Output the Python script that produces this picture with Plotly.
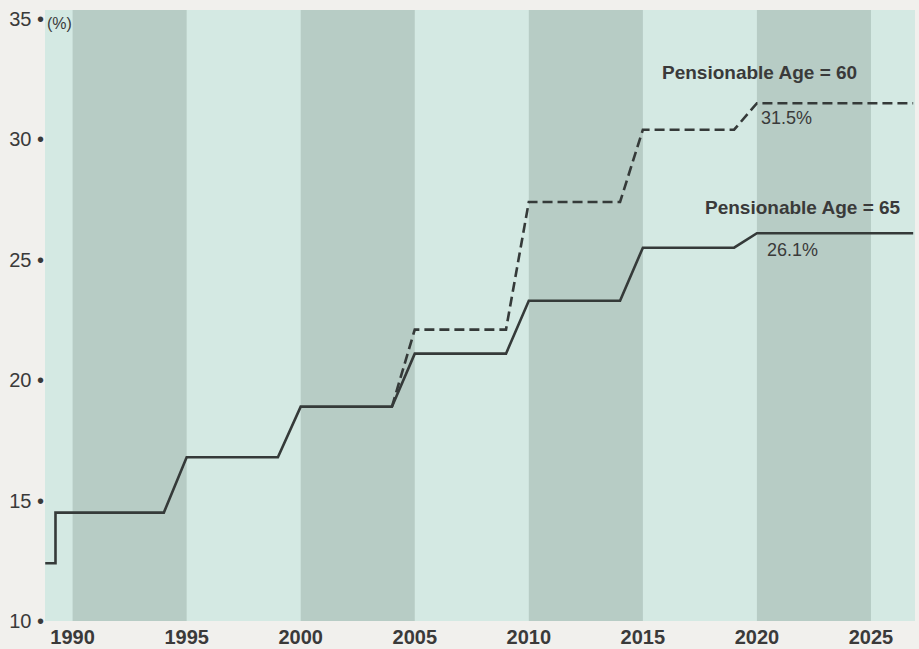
import plotly.graph_objects as go

# ---- data ----
years_65 = [1988.8, 1989.25, 1989.25, 1994, 1995, 1999, 2000, 2004, 2005, 2009, 2010, 2014, 2015, 2019, 2020, 2026.85]
rate_65 = [12.4, 12.4, 14.5, 14.5, 16.8, 16.8, 18.9, 18.9, 21.1, 21.1, 23.3, 23.3, 25.5, 25.5, 26.1, 26.1]

years_60 = [2004, 2005, 2009, 2010, 2014, 2015, 2019, 2020, 2026.85]
rate_60 = [18.9, 22.1, 22.1, 27.4, 27.4, 30.4, 30.4, 31.5, 31.5]

stripe_starts = [1990, 2000, 2010, 2020]
stripe_len = 5

x_ticks = [1990, 1995, 2000, 2005, 2010, 2015, 2020, 2025]
y_ticks = [10, 15, 20, 25, 30, 35]

label_60 = "Pensionable Age = 60"
label_65 = "Pensionable Age = 65"
end_60 = "31.5%"
end_65 = "26.1%"

LINE = "#353a39"
TXT = "#3a3a3a"
FONT = "Liberation Sans, Arial, Helvetica, sans-serif"

fig = go.Figure()

fig.add_trace(go.Scatter(
    x=years_65, y=rate_65, mode="lines",
    line=dict(color=LINE, width=2.6), hoverinfo="skip", showlegend=False))
fig.add_trace(go.Scatter(
    x=years_60, y=rate_60, mode="lines",
    line=dict(color=LINE, width=2.6, dash="10px,5px"), hoverinfo="skip", showlegend=False))

shapes = []
for s in stripe_starts:
    shapes.append(dict(type="rect", xref="x", yref="paper", x0=s, x1=s + stripe_len,
                       y0=0, y1=1, fillcolor="#b7ccc5", line=dict(width=0), layer="below"))

annotations = [
    dict(x=2020.13, y=32.76, text=label_60, showarrow=False, xanchor="center", yanchor="middle",
         font=dict(family=FONT, size=19, color=TXT, weight="bold")),
    dict(x=2020.1, y=30.89, text=end_60, showarrow=False, xanchor="left", yanchor="middle",
         font=dict(family=FONT, size=18, color=TXT)),
    dict(x=2026.4, y=27.19, text=label_65, showarrow=False, xanchor="right", yanchor="middle",
         font=dict(family=FONT, size=19, color=TXT, weight="bold")),
    dict(x=2020.35, y=25.41, text=end_65, showarrow=False, xanchor="left", yanchor="middle",
         font=dict(family=FONT, size=18, color=TXT)),
    dict(x=0, y=1, xref="paper", yref="paper", text="(%)", showarrow=False,
         xanchor="left", yanchor="top", xshift=0, yshift=-3,
         font=dict(family=FONT, size=16, color=TXT)),
]

fig.update_layout(
    width=919, height=649,
    margin=dict(l=45, r=4, t=10, b=28),
    paper_bgcolor="#f1f0ed",
    plot_bgcolor="#d4e9e3",
    shapes=shapes,
    annotations=annotations,
    font=dict(family=FONT, color=TXT),
    xaxis=dict(range=[1988.79, 2026.93], tickvals=x_ticks, ticktext=[str(v) for v in x_ticks],
               showgrid=False, zeroline=False, showline=False, ticks="", automargin=False,
               ticklabelstandoff=2,
               tickfont=dict(family=FONT, size=20, color=TXT, weight="bold")),
    yaxis=dict(range=[10, 35.37], tickvals=y_ticks, ticktext=[f"{v} •" for v in y_ticks],
               showgrid=False, zeroline=False, showline=False, ticks="", automargin=False,
               tickfont=dict(family=FONT, size=20, color=TXT)),
)

fig.write_html("out.html")
